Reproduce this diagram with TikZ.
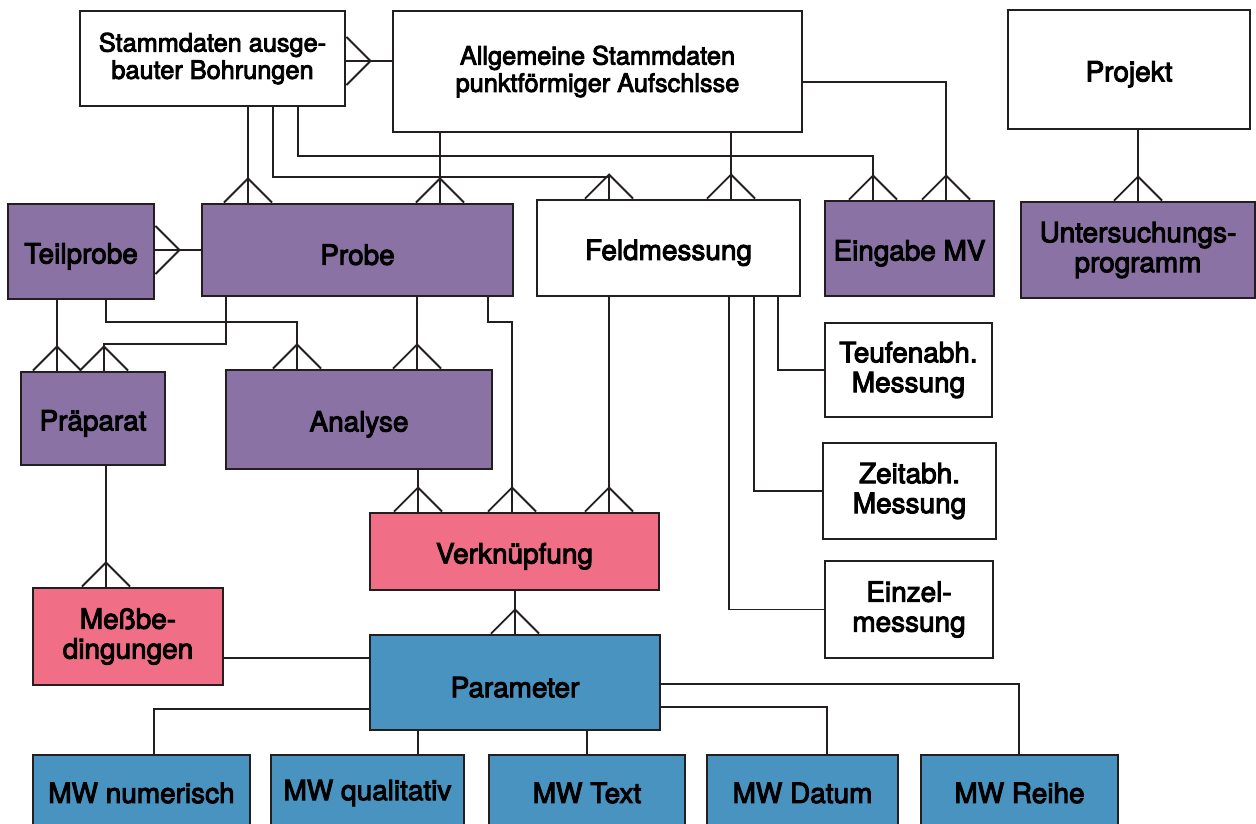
\documentclass[tikz,border=0pt]{standalone}
\usepackage{fontspec}
\newfontfamily\diagfont{TeX Gyre Heros}[FakeBold=3.5]
\usepackage{xcolor}
\usetikzlibrary{positioning}

\definecolor{lila}{HTML}{8B72A4}
\definecolor{rosa}{HTML}{F06F86}
\definecolor{blau}{HTML}{4893C0}
\definecolor{strich}{HTML}{231F20}

\begin{document}
\begin{tikzpicture}[
            x=0.02cm, y=-0.02cm,
            basebox/.style={rectangle, draw=strich, line width=1.6pt, fill=white, align=center, inner sep=1pt,
                font=\diagfont\fontsize{15.9}{17}\selectfont},
            entity/.style={basebox, execute at begin node={\rule{0pt}{1.07em}}},
            topentity/.style={entity, font=\diagfont\fontsize{14.4}{15.5}\selectfont},
            lilabox/.style={entity, fill=lila},
            rosabox/.style={entity, fill=rosa},
            blaubox/.style={entity, fill=blau},
            mwbox/.style={basebox, fill=blau},
            sz/.style 2 args={minimum width=#1*0.02cm, minimum height=#2*0.02cm},
            link/.style={draw=strich, line width=1.1pt},
            crow/.pic={\draw[link] (-24,0) -- (0,-24) -- (24,0);},
            crowr/.pic={\draw[link] (0,-24) -- (24,0) -- (0,24);}
        ]
        \useasboundingbox (0,0) rectangle (1256,823);
        \clip (0,0) rectangle (1256,823);

        % obere Reihe
        \node[topentity, sz={265}{95}] (bohr) at (212.5,58.5) {Stammdaten ausge-\\bauter Bohrungen};
        \node[topentity, sz={409}{121}] (allg) at (597.5,71.5) {Allgemeine Stammdaten\\punktf\"ormiger Aufschlsse};
        \node[entity, sz={242}{119}] (projekt) at (1129,69.5) {Projekt};

        % zweite Reihe
        \node[lilabox, sz={146}{95}] (teil) at (81,251.5) {Teilprobe};
        \node[lilabox, sz={311}{92}] (probe) at (357.5,250) {Probe};
        \node[entity, sz={263}{96}] (feld) at (668.5,248) {Feldmessung};
        \node[lilabox, sz={169}{95}] (eingabe) at (909.5,248.5) {Eingabe MV};
        \node[lilabox, sz={234}{96}] (unter) at (1138,250) {Untersuchungs-\\programm};

        % Mitte
        \node[lilabox, sz={144}{93}] (praep) at (93,418.5) {Pr\"aparat};
        \node[lilabox, sz={266}{99}] (analyse) at (359,419.5) {Analyse};
        \node[rosabox, sz={289}{77}] (verk) at (514.5,551.5) {Verkn\"upfung};
        \node[entity, sz={167}{94}] (teufe) at (908.5,370) {Teufenabh.\\Messung};
        \node[entity, sz={173}{96}] (zeit) at (909.5,491) {Zeitabh.\\Messung};
        \node[entity, sz={168}{97}] (einzel) at (909,609.5) {Einzel-\\messung};
        \node[rosabox, sz={190}{97}] (mess) at (128,636.5) {Me\ss be-\\dingungen};
        \node[blaubox, sz={290}{95}] (param) at (515,682.5) {Parameter};

        % Messwerte
        \node[mwbox, sz={217}{76}] (mwnum) at (141.5,793) {MW numerisch};
        \node[mwbox, sz={193}{76}] (mwqual) at (367.5,793) {MW qualitativ};
        \node[mwbox, sz={196}{76}] (mwtext) at (587,793) {MW Text};
        \node[mwbox, sz={191}{76}] (mwdat) at (802.5,793) {MW Datum};
        \node[mwbox, sz={197}{76}] (mwreihe) at (1019.5,793) {MW Reihe};

        % Beziehungen oben
        \draw[link] (allg.west |- 0,61) -- (bohr.east |- 0,61) pic {crowr};
        \draw[link] (248,0 |- bohr.south) -- (248,0 |- probe.north) pic {crow};
        \draw[link] (273,0 |- bohr.south) -- (273,177) -| (609,0 |- feld.north) pic {crow};
        \draw[link] (298,0 |- bohr.south) -- (298,156) -| (873,0 |- eingabe.north) pic {crow};
        \draw[link] (440,0 |- allg.south) -- (440,0 |- probe.north) pic {crow};
        \draw[link] (731,0 |- allg.south) -- (731,0 |- feld.north) pic {crow};
        \draw[link] (allg.east |- 0,82) -| (946,0 |- eingabe.north) pic {crow};
        \draw[link] (unter.north |- projekt.south) -- (unter.north) pic {crow};
        \draw[link] (probe.west) -- (probe.west -| teil.east) pic {crowr};

        % Proben
        \draw[link] (57,0 |- teil.south) -- (57,0 |- praep.north) pic {crow};
        \draw[link] (106,0 |- teil.south) -- (106,322) -| (297,0 |- analyse.north) pic {crow};
        \draw[link] (226,0 |- probe.south) -- (226,344) -| (104,0 |- praep.north) pic {crow};
        \draw[link] (417,0 |- probe.south) -- (417,0 |- analyse.north) pic {crow};
        \draw[link] (488,0 |- probe.south) -- (488,322) -| (512,0 |- verk.north) pic {crow};
        \draw[link] (418,0 |- analyse.south) -- (418,0 |- verk.north) pic {crow};
        \draw[link] (609,0 |- feld.south) -- (609,0 |- verk.north) pic {crow};

        % Feldmessung
        \draw[link] (778,0 |- feld.south) |- (teufe.west);
        \draw[link] (754,0 |- feld.south) |- (zeit.west);
        \draw[link] (729,0 |- feld.south) |- (einzel.west);

        % Parameter
        \draw[link] (106,0 |- praep.south) -- (106,0 |- mess.north) pic {crow};
        \draw[link] (param.north |- verk.south) -- (param.north) pic {crow};
        \draw[link] (mess.east |- 0,658) -- (param.west |- 0,658);
        \draw[link] (param.west |- 0,709) -| (154,0 |- mwnum.north);
        \draw[link] (418,0 |- param.south) -- (418,0 |- mwqual.north);
        \draw[link] (mwtext.north |- param.south) -- (mwtext.north);
        \draw[link] (param.east |- 0,707) -| (827,0 |- mwdat.north);
        \draw[link] (param.east |- 0,684) -| (1019,0 |- mwreihe.north);
    \end{tikzpicture}
\end{document}
